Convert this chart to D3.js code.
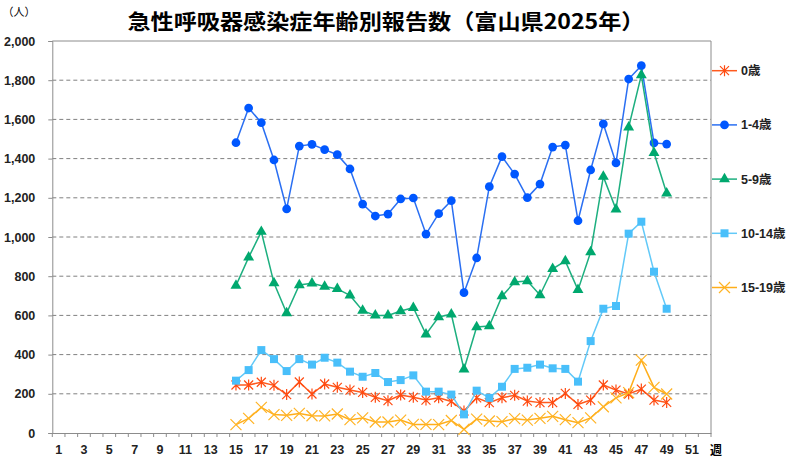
<html>
<head>
<meta charset="utf-8">
<title>急性呼吸器感染症年齢別報告数</title>
<script src="https://d3js.org/d3.v7.min.js"></script>
<style>
  body { margin: 0; background: #fff; }
  text { font-family: "Liberation Sans Narrow", "Liberation Sans", "Noto Sans CJK JP", sans-serif; }
</style>
</head>
<body>
<svg id="chart" width="800" height="462"></svg>
<script>
// weeks that have reports
const weeks = [15,16,17,18,19,20,21,22,23,24,25,26,27,28,29,30,31,32,33,34,35,36,37,38,39,40,41,42,43,44,45,46,47,48,49];
const allWeeks = d3.range(1, 53);

const age0    = [245,245,259,243,196,260,199,250,233,219,207,182,165,194,182,168,180,161,112,179,155,180,192,163,155,155,202,146,168,245,219,199,224,168,156];
const age1_4  = [1481,1658,1583,1393,1143,1464,1473,1446,1420,1347,1168,1107,1117,1194,1199,1015,1119,1185,716,893,1257,1410,1321,1201,1270,1459,1469,1083,1342,1577,1378,1806,1874,1480,1474];
const age5_9  = [752,896,1027,765,612,755,764,747,735,702,624,600,600,622,639,503,592,606,325,541,546,698,770,775,704,838,877,730,923,1308,1141,1560,1826,1430,1223];
const age10_14 = [267,321,423,377,316,377,349,384,359,313,287,306,260,270,294,211,211,196,95,216,179,236,327,333,349,330,327,262,469,634,648,1017,1078,823,634];
const age15_19 = [43,75,131,94,90,100,88,87,97,68,77,56,56,66,44,44,43,64,19,71,61,58,73,66,75,85,68,53,77,134,179,206,372,233,199];

const seriesNames = ['0歳', '1-4歳', '5-9歳', '10-14歳', '15-19歳'];
const yTicks = [0,200,400,600,800,1000,1200,1400,1600,1800,2000];

const svg = d3.select('svg#chart');
const margins = { top: 41, right: 89, bottom: 29, left: 52.3 };
const chartWidth = 800 - margins.left - margins.right;
const chartHeight = 462 - margins.top - margins.bottom;

const chartArea = svg.append('g')
    .attr('transform', `translate(${margins.left}, ${margins.top})`);

const xScale = d3.scaleBand().domain(allWeeks).range([0, chartWidth]);
const yScale = d3.scaleLinear().domain([0, 2000]).range([chartHeight, 0]);
const xc = w => xScale(w) + xScale.bandwidth() / 2;

// title
svg.append('text')
    .attr('x', 386).attr('y', 29)
    .attr('text-anchor', 'middle')
    .style('font-family', '"Noto Sans CJK JP", sans-serif')
    .style('font-size', '21px').style('font-weight', 'bold')
    .attr('textLength', 517).attr('lengthAdjust', 'spacingAndGlyphs')
    .text('急性呼吸器感染症年齢別報告数（富山県2025年）');

svg.append('text')
    .attr('x', 19).attr('y', 16)
    .attr('text-anchor', 'middle')
    .style('font-family', '"Noto Sans CJK JP", sans-serif')
    .style('font-size', '11px')
    .text('（人）');

// grid lines
chartArea.append('g')
    .selectAll('line')
    .data(yTicks.filter(d => d > 0 && d < 2000))
    .enter().append('line')
    .attr('x1', 0).attr('x2', chartWidth)
    .attr('y1', d => yScale(d)).attr('y2', d => yScale(d))
    .attr('stroke', '#808080').attr('stroke-width', 1)
    .attr('stroke-dasharray', '4,3');

// plot border (top and right)
chartArea.append('path')
    .attr('d', `M0,0H${chartWidth}V${chartHeight}`)
    .attr('fill', 'none').attr('stroke', '#8c8c8c').attr('stroke-width', 1);

// y axis
const yAxis = chartArea.append('g')
    .call(d3.axisLeft(yScale).tickValues(yTicks).tickFormat(d3.format(',')).tickSize(4).tickPadding(13));
yAxis.selectAll('text').style('font-size', '12.5px').style('font-weight', 'bold').attr('fill', '#222');
yAxis.selectAll('line, path').attr('stroke', '#8c8c8c');

// x axis labels
const xAxis = chartArea.append('g')
    .attr('transform', `translate(0, ${chartHeight})`)
    .call(d3.axisBottom(xScale).tickSize(0).tickPadding(12)
        .tickFormat(d => d % 2 === 1 ? d : ''));
xAxis.selectAll('text').style('font-size', '12.5px').style('font-weight', 'bold').attr('fill', '#222');
xAxis.select('path').attr('stroke', '#8c8c8c');

// tick marks between weeks
chartArea.append('g')
    .selectAll('line')
    .data(allWeeks.map(w => xScale(w)).concat([chartWidth]))
    .enter().append('line')
    .attr('x1', d => d).attr('x2', d => d)
    .attr('y1', chartHeight).attr('y2', chartHeight + 4)
    .attr('stroke', '#8c8c8c');

svg.append('text')
    .attr('x', 716).attr('y', 455)
    .attr('text-anchor', 'middle')
    .style('font-family', '"Noto Sans CJK JP", sans-serif')
    .style('font-size', '12px').style('font-weight', 'bold')
    .text('週');

// markers
const asterisk = 'M-4.5,-4.5L4.5,4.5M-4.5,4.5L4.5,-4.5M0,-5.5L0,5.5';
const cross = 'M-5.5,-5.5L5.5,5.5M-5.5,5.5L5.5,-5.5';
const series = [
    { name: seriesNames[0], values: age0, line: '#ff5a1e', mark: '#ff4a10', shape: 'asterisk' },
    { name: seriesNames[1], values: age1_4, line: '#2a6ff2', mark: '#0057ff', shape: d3.symbolCircle, size: 60 },
    { name: seriesNames[2], values: age5_9, line: '#1daf7f', mark: '#00a86e', shape: d3.symbolTriangle, size: 52 },
    { name: seriesNames[3], values: age10_14, line: '#62c9f8', mark: '#49bffa', shape: d3.symbolSquare, size: 64 },
    { name: seriesNames[4], values: age15_19, line: '#ffae1a', mark: '#ffb324', shape: 'cross' }
];

function drawMarker(g, s) {
    if (s.shape === 'asterisk' || s.shape === 'cross') {
        g.append('path')
            .attr('d', s.shape === 'asterisk' ? asterisk : cross)
            .attr('stroke', s.mark).attr('stroke-width', 1.2).attr('fill', 'none');
    } else {
        g.append('path')
            .attr('d', d3.symbol().type(s.shape).size(s.size)())
            .attr('fill', s.mark);
    }
}

const line = d3.line()
    .x((d, i) => xc(weeks[i]))
    .y(d => yScale(d));

series.forEach(s => {
    const g = chartArea.append('g');
    g.append('path')
        .datum(s.values)
        .attr('d', line)
        .attr('fill', 'none')
        .attr('stroke', s.line)
        .attr('stroke-width', 1.5);
    g.selectAll('g.pt')
        .data(s.values)
        .enter().append('g')
        .attr('class', 'pt')
        .attr('transform', (d, i) => `translate(${xc(weeks[i])}, ${yScale(d)})`)
        .each(function() { drawMarker(d3.select(this), s); });
});

// legend
const legend = svg.append('g');
series.forEach((s, i) => {
    const ly = 70.7 + i * 54.2;
    const item = legend.append('g').attr('transform', `translate(712, ${ly})`);
    item.append('line')
        .attr('x1', 0).attr('x2', 25)
        .attr('stroke', s.line).attr('stroke-width', 1.5);
    const m = item.append('g').attr('transform', 'translate(12.5, 0)');
    drawMarker(m, s);
    item.append('text')
        .attr('x', 29).attr('y', 4.5)
        .style('font-size', '12.5px').style('font-weight', 'bold')
        .attr('fill', '#222')
        .text(s.name);
});
</script>
</body>
</html>
